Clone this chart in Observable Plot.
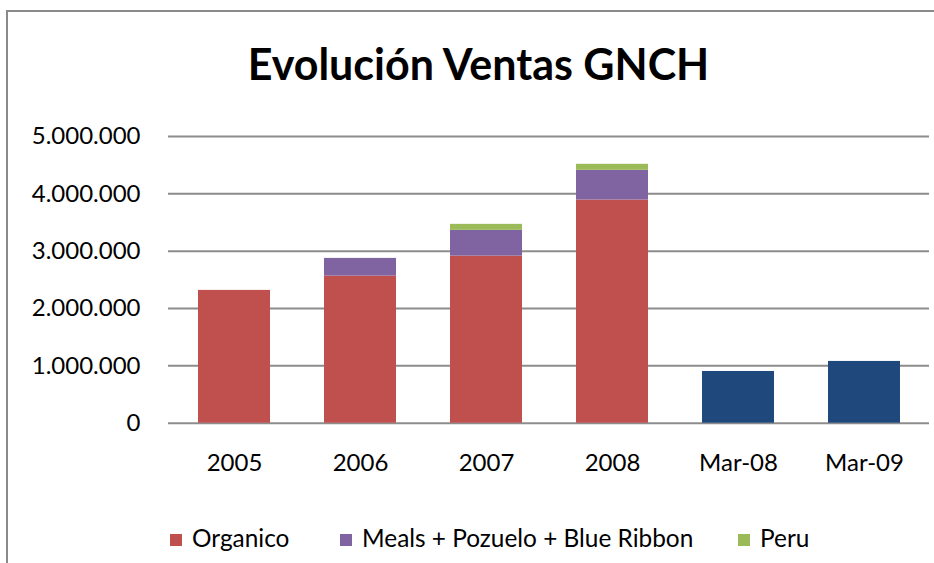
<!DOCTYPE html>
<html>
<head>
<meta charset="utf-8">
<script src="https://cdn.jsdelivr.net/npm/d3@7"></script>
<script src="https://cdn.jsdelivr.net/npm/@observablehq/plot@0.6"></script>
<style>
  html, body { margin: 0; padding: 0; background: #fff; }
  body { width: 934px; height: 563px; position: relative; overflow: hidden; font-family: Lato, "Open Sans", sans-serif; }
  #frame { position: absolute; left: 6px; top: 10px; width: 1000px; height: 700px; border-left: 2px solid #8a8a8a; border-top: 2px solid #8a8a8a; box-sizing: border-box; }
  #title { position: absolute; left: 0; width: 957px; top: 42px; text-align: center; font-weight: 700; font-size: 43px; color: #000; line-height: 1; }
  #chart { position: absolute; left: 0; top: 115px; }
  .leg { position: absolute; top: 525px; font-size: 24.4px; color: #000; line-height: 26px; white-space: nowrap; }
  .leg i { display: inline-block; width: 12px; height: 12px; margin-right: 10px; vertical-align: 1px; }
</style>
</head>
<body>
<div id="frame"></div>
<div id="title">Evolución Ventas GNCH</div>
<div id="chart"></div>
<div id="legend"></div>
<script>
const categories = ["2005", "2006", "2007", "2008", "Mar-08", "Mar-09"];
const seriesNames = ["Organico", "Meals + Pozuelo + Blue Ribbon", "Peru", "Marzo"];
const organico = [2316000, 2565000, 2914000, 3892000, 0, 0];
const meals = [0, 309000, 449000, 518000, 0, 0];
const peru = [0, 0, 105000, 105000, 0, 0];
const marzo = [0, 0, 0, 0, 902000, 1077000];
const colors = ["#C0504D", "#8064A2", "#9BBB59", "#1F497D"];
const legendNames = ["Organico", "Meals + Pozuelo + Blue Ribbon", "Peru"];
const yTicks = [0, 1000000, 2000000, 3000000, 4000000, 5000000];

const seriesValues = [organico, meals, peru, marzo];
const rows = [];
categories.forEach((c, i) => {
  seriesValues.forEach((vals, s) => {
    rows.push({ category: c, series: seriesNames[s], value: vals[i] });
  });
});

const loc = d3.formatLocale({ decimal: ",", thousands: ".", grouping: [3], currency: ["", ""] });
const fmt = loc.format(",");

const plot = Plot.plot({
  width: 934,
  height: 360,
  marginLeft: 168,
  marginRight: 5,
  marginTop: 21,
  marginBottom: 52.3,
  style: { fontFamily: "Lato, 'Open Sans', sans-serif", fontSize: "24px", color: "#000", background: "transparent" },
  x: { domain: categories, paddingInner: 0.432, paddingOuter: 0.216, label: null },
  y: { domain: [0, 5000000], label: null },
  color: { domain: seriesNames, range: colors },
  marks: [
    Plot.ruleY(yTicks, { stroke: "#8c8c8c", strokeWidth: 2 }),
    Plot.barY(rows, Plot.stackY({ x: "category", y: "value", fill: "series", order: seriesNames })),
    Plot.axisX({ tickSize: 0, tickPadding: 31, fontSize: 24 }),
    Plot.axisY({ ticks: yTicks, tickFormat: fmt, tickSize: 0, tickPadding: 28, fontSize: 24 })
  ]
});
document.getElementById("chart").appendChild(plot);

const legend = document.getElementById("legend");
const legendLefts = [170, 340, 738];
legendNames.forEach((name, i) => {
  const el = document.createElement("div");
  el.className = "leg";
  el.style.left = legendLefts[i] + "px";
  const sw = document.createElement("i");
  sw.style.background = colors[i];
  el.appendChild(sw);
  el.appendChild(document.createTextNode(name));
  legend.appendChild(el);
});
</script>
</body>
</html>
